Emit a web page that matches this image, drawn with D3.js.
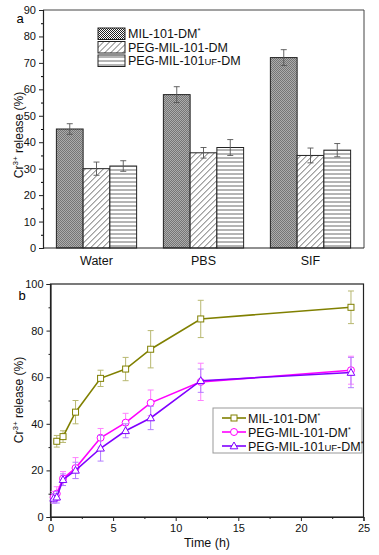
<!DOCTYPE html>
<html>
<head>
<meta charset="utf-8">
<script src="https://cdn.jsdelivr.net/npm/d3@7/dist/d3.min.js"></script>
<style>
  body { margin: 0; background: #fff; }
  svg { font-family: "Liberation Sans", Arial, sans-serif; display: block; }
</style>
</head>
<body>
<svg width="379" height="555"></svg>
<script>
// ---- panel a data ----
var media = ["Water", "PBS", "SIF"];
var barKeys = ["mil", "peg", "uf"];
var milRelease = [45, 58, 72];
var milErr = [2, 3, 3];
var pegRelease = [30, 36, 35];
var pegErr = [2.5, 2, 2.8];
var ufRelease = [31, 38, 37];
var ufErr = [2, 3, 2.5];
var yTicksA = [0, 10, 20, 30, 40, 50, 60, 70, 80, 90];

// ---- panel b data ----
var tMil = [0.5, 1, 2, 4, 6, 8, 12, 24];
var vMil = [32.5, 34.5, 45, 59.5, 63.5, 72, 85, 90];
var eMil = [2.5, 2.5, 5, 3.5, 5, 8, 8, 7];
var tPeg = [0.25, 0.5, 1, 2, 4, 6, 8, 12, 24];
var vPeg = [8.5, 10, 16.5, 21, 34, 40.5, 49, 58, 63];
var ePeg = [2.5, 3, 3, 4.5, 4, 4, 5.5, 8, 6];
var tUf = [0.25, 0.5, 1, 2, 4, 6, 8, 12, 24];
var vUf = [8, 8.5, 16, 20, 29.5, 37, 42.5, 58.5, 62];
var eUf = [2, 2.5, 2.5, 3.5, 5.5, 3, 5, 5, 6.5];
var xTicksB = [0, 5, 10, 15, 20, 25];
var yTicksB = [0, 20, 40, 60, 80, 100];

var svg = d3.select("svg");
svg.append("rect").attr("width", 379).attr("height", 555).attr("fill", "#fff");

// patterns for bars
var defs = svg.append("defs");
var pCheck = defs.append("pattern").attr("id", "pCheck").attr("patternUnits", "userSpaceOnUse")
    .attr("width", 2).attr("height", 2);
pCheck.append("rect").attr("width", 2).attr("height", 2).attr("fill", "#fff");
pCheck.append("rect").attr("width", 1).attr("height", 1).attr("fill", "#222");
pCheck.append("rect").attr("x", 1).attr("y", 1).attr("width", 1).attr("height", 1).attr("fill", "#222");

var pDiag = defs.append("pattern").attr("id", "pDiag").attr("patternUnits", "userSpaceOnUse")
    .attr("width", 6).attr("height", 6);
pDiag.append("rect").attr("width", 6).attr("height", 6).attr("fill", "#fff");
pDiag.append("path").attr("d", "M-1,7 L7,-1 M-4,4 L4,-4 M2,10 L10,2").attr("stroke", "#444").attr("stroke-width", 0.8);

var pHor = defs.append("pattern").attr("id", "pHor").attr("patternUnits", "userSpaceOnUse")
    .attr("width", 6).attr("height", 4);
pHor.append("rect").attr("width", 6).attr("height", 4).attr("fill", "#fff");
pHor.append("line").attr("x1", 0).attr("x2", 6).attr("y1", 2).attr("y2", 2).attr("stroke", "#444").attr("stroke-width", 0.8);

var fills = {mil: "url(#pCheck)", peg: "url(#pDiag)", uf: "url(#pHor)"};

// ================= panel a =================
var A = {left: 43, right: 364, top: 10, bottom: 248};

var x0 = d3.scaleBand().domain(media).range([A.left, A.right])
    .paddingInner(0.25).paddingOuter(0.125);
var x1 = d3.scaleBand().domain(barKeys).range([0, x0.bandwidth()]);
var yA = d3.scaleLinear().domain([0, 90]).range([A.bottom, A.top]);

var barData = media.map(function(m, i) {
  return {medium: m, bars: [
    {key: "mil", value: milRelease[i], err: milErr[i]},
    {key: "peg", value: pegRelease[i], err: pegErr[i]},
    {key: "uf", value: ufRelease[i], err: ufErr[i]}
  ]};
});

var gA = svg.append("g");
var grp = gA.selectAll("g.grp").data(barData).enter().append("g")
    .attr("class", "grp")
    .attr("transform", function(d) { return "translate(" + x0(d.medium) + ",0)"; });

grp.selectAll("rect").data(function(d) { return d.bars; }).enter().append("rect")
    .attr("x", function(d) { return x1(d.key); })
    .attr("y", function(d) { return yA(d.value); })
    .attr("width", x1.bandwidth())
    .attr("height", function(d) { return yA(0) - yA(d.value); })
    .attr("fill", function(d) { return fills[d.key]; })
    .attr("stroke", "#222").attr("stroke-width", 1);

// error bars
var eb = grp.selectAll("g.eb").data(function(d) { return d.bars; }).enter().append("g")
    .attr("class", "eb")
    .attr("stroke", "#555").attr("stroke-width", 0.9);
eb.append("line")
    .attr("x1", function(d) { return x1(d.key) + x1.bandwidth() / 2; })
    .attr("x2", function(d) { return x1(d.key) + x1.bandwidth() / 2; })
    .attr("y1", function(d) { return yA(d.value - d.err); })
    .attr("y2", function(d) { return yA(d.value + d.err); });
[-1, 1].forEach(function(s) {
  eb.append("line")
      .attr("x1", function(d) { return x1(d.key) + x1.bandwidth() / 2 - 3; })
      .attr("x2", function(d) { return x1(d.key) + x1.bandwidth() / 2 + 3; })
      .attr("y1", function(d) { return yA(d.value + s * d.err); })
      .attr("y2", function(d) { return yA(d.value + s * d.err); });
});

// frame (top / right)
gA.append("path")
    .attr("d", "M" + A.left + "," + A.top + "H" + A.right + "V" + A.bottom)
    .attr("fill", "none").attr("stroke", "#444").attr("stroke-width", 1);

// y axis a
var axA = gA.append("g").attr("transform", "translate(" + A.left + ",0)")
    .call(d3.axisLeft(yA).tickValues(yTicksA).tickSize(4).tickPadding(3));
gA.append("g").attr("transform", "translate(" + A.left + ",0)")
    .call(d3.axisLeft(yA).tickValues(d3.range(5, 90, 10)).tickSize(2).tickFormat(""))
    .select(".domain").remove();
// x axis a
var axAx = gA.append("g").attr("transform", "translate(0," + A.bottom + ")")
    .call(d3.axisBottom(x0).tickSize(0).tickPadding(8));
axAx.select(".domain").attr("d", "M" + A.left + ",0H" + A.right);
[axA, axAx].forEach(function(a) {
  a.selectAll("text").attr("fill", "#111").style("font-family", "inherit");
  a.select(".domain").attr("stroke", "#222").attr("stroke-width", 1.2);
  a.selectAll(".tick line").attr("stroke", "#222");
});
axA.selectAll("text").attr("font-size", 11);
axAx.selectAll("text").attr("font-size", 12.5);

gA.append("text").attr("x", 20).attr("y", 23).attr("font-size", 13).attr("text-anchor", "middle").text("a");

function yLabel(g, x, y) {
  var t = g.append("text").attr("transform", "translate(" + x + "," + y + ") rotate(-90)")
      .attr("text-anchor", "middle").attr("font-size", 12).attr("fill", "#111");
  t.append("tspan").text("Cr");
  t.append("tspan").attr("font-size", 8).attr("dy", -5).text("3+");
  t.append("tspan").attr("dy", 5).text(" release (%)");
}
yLabel(gA, 23, 135);

// legend a
var legA = [
  {key: "mil", name: "MIL-101-DM", sup: "*"},
  {key: "peg", name: "PEG-MIL-101-DM"},
  {key: "uf", name: "PEG-MIL-101", small: "UF", rest: "-DM"}
];
var la = gA.selectAll("g.la").data(legA).enter().append("g")
    .attr("class", "la")
    .attr("transform", function(d, i) { return "translate(98," + (28 + i * 13.5) + ")"; });
la.append("rect").attr("width", 27).attr("height", 11.5)
    .attr("fill", function(d) { return fills[d.key]; })
    .attr("stroke", "#222").attr("stroke-width", 1);
la.each(function(d) {
  var t = d3.select(this).append("text").attr("x", 30).attr("y", 10).attr("font-size", 12.5).attr("fill", "#111");
  t.append("tspan").text(d.name);
  if (d.sup) t.append("tspan").attr("font-size", 8).attr("dy", -5).text(d.sup);
  if (d.small) {
    t.append("tspan").attr("font-size", 9.5).text(d.small);
    t.append("tspan").text(d.rest);
  }
});

// ================= panel b =================
var B = {left: 50.5, right: 363.5, top: 284, bottom: 517};
var xB = d3.scaleLinear().domain([0, 25]).range([B.left, B.right]);
var yB = d3.scaleLinear().domain([0, 100]).range([B.bottom, B.top]);
var gB = svg.append("g");

gB.append("rect").attr("x", B.left).attr("y", B.top)
    .attr("width", B.right - B.left).attr("height", B.bottom - B.top)
    .attr("fill", "none").attr("stroke", "#222").attr("stroke-width", 1.2);

var axBy = gB.append("g").attr("transform", "translate(" + B.left + ",0)")
    .call(d3.axisLeft(yB).tickValues(yTicksB).tickSize(4).tickPadding(3));
gB.append("g").attr("transform", "translate(" + B.left + ",0)")
    .call(d3.axisLeft(yB).tickValues(d3.range(10, 100, 20)).tickSize(2).tickFormat(""))
    .select(".domain").remove();
var axBx = gB.append("g").attr("transform", "translate(0," + B.bottom + ")")
    .call(d3.axisBottom(xB).tickValues(xTicksB).tickSize(4).tickPadding(3));
gB.append("g").attr("transform", "translate(0," + B.bottom + ")")
    .call(d3.axisBottom(xB).tickValues(d3.range(2.5, 25, 5)).tickSize(2).tickFormat(""))
    .select(".domain").remove();
[axBy, axBx].forEach(function(a) {
  a.selectAll("text").attr("fill", "#111").attr("font-size", 11).style("font-family", "inherit");
  a.select(".domain").attr("stroke", "#222").attr("stroke-width", 1.2);
  a.selectAll(".tick line").attr("stroke", "#222");
});
gB.selectAll(".tick line").attr("stroke", "#222");

gB.append("text").attr("x", 22).attr("y", 300).attr("font-size", 13).attr("text-anchor", "middle").text("b");
yLabel(gB, 23, 400);
gB.append("text").attr("x", (B.left + B.right) / 2).attr("y", 547).attr("text-anchor", "middle")
    .attr("font-size", 12.5).attr("fill", "#111").text("Time (h)");

var series = [
  {name: "MIL-101-DM", t: tMil, v: vMil, e: eMil, color: "#808000", errColor: "#b8b870", shape: "square"},
  {name: "PEG-MIL-101-DM", t: tPeg, v: vPeg, e: ePeg, color: "#ff00ff", errColor: "#ff80ff", shape: "circle"},
  {name: "PEG-MIL-101", small: "UF", rest: "-DM", t: tUf, v: vUf, e: eUf, color: "#8000ff", errColor: "#b47fff", shape: "triangle"}
];

function marker(sel, shape, color) {
  if (shape === "square") {
    sel.append("rect").attr("x", -3).attr("y", -3).attr("width", 6).attr("height", 6)
        .attr("fill", "#fff").attr("stroke", color).attr("stroke-width", 1);
  } else if (shape === "circle") {
    sel.append("circle").attr("r", 3.5).attr("fill", "#fff").attr("stroke", color).attr("stroke-width", 1);
  } else {
    sel.append("path").attr("d", "M0,-4L3.8,2.8L-3.8,2.8Z").attr("fill", "#fff").attr("stroke", color).attr("stroke-width", 1);
  }
}

var line = d3.line().x(function(d) { return xB(d.t); }).y(function(d) { return yB(d.v); });

series.forEach(function(s) {
  var pts = s.t.map(function(t, i) { return {t: t, v: s.v[i], e: s.e[i]}; });
  var sg = gB.append("g");
  var eg = sg.selectAll("g.err").data(pts).enter().append("g").attr("stroke", s.errColor).attr("stroke-width", 1);
  eg.append("line")
      .attr("x1", function(d) { return xB(d.t); }).attr("x2", function(d) { return xB(d.t); })
      .attr("y1", function(d) { return yB(d.v - d.e); }).attr("y2", function(d) { return yB(d.v + d.e); });
  [-1, 1].forEach(function(k) {
    eg.append("line")
        .attr("x1", function(d) { return xB(d.t) - 3; }).attr("x2", function(d) { return xB(d.t) + 3; })
        .attr("y1", function(d) { return yB(d.v + k * d.e); }).attr("y2", function(d) { return yB(d.v + k * d.e); });
  });
  sg.append("path").datum(pts).attr("d", line).attr("fill", "none")
      .attr("stroke", s.color).attr("stroke-width", 1.6);
  sg.selectAll("g.m").data(pts).enter().append("g")
      .attr("transform", function(d) { return "translate(" + xB(d.t) + "," + yB(d.v) + ")"; })
      .each(function() { marker(d3.select(this), s.shape, s.color); });
});

// legend b
var lgB = gB.append("g").attr("transform", "translate(213,408)");
lgB.append("rect").attr("width", 149).attr("height", 45).attr("fill", "#fff")
    .attr("stroke", "#999").attr("stroke-width", 1);
var lb = lgB.selectAll("g.lb").data(series).enter().append("g")
    .attr("transform", function(d, i) { return "translate(0," + (10 + i * 14) + ")"; });
lb.append("line").attr("x1", 9).attr("x2", 33).attr("stroke", function(d) { return d.color; }).attr("stroke-width", 1.6);
lb.each(function(d) {
  var g = d3.select(this).append("g").attr("transform", "translate(21,0)");
  marker(g, d.shape, d.color);
  var t = d3.select(this).append("text").attr("x", 35).attr("y", 4.5).attr("font-size", 12.5).attr("fill", "#111");
  t.append("tspan").text(d.name);
  if (d.small) {
    t.append("tspan").attr("font-size", 9.5).text(d.small);
    t.append("tspan").text(d.rest);
  }
  t.append("tspan").attr("font-size", 7).attr("dy", -5).text("*");
});
</script>
</body>
</html>
